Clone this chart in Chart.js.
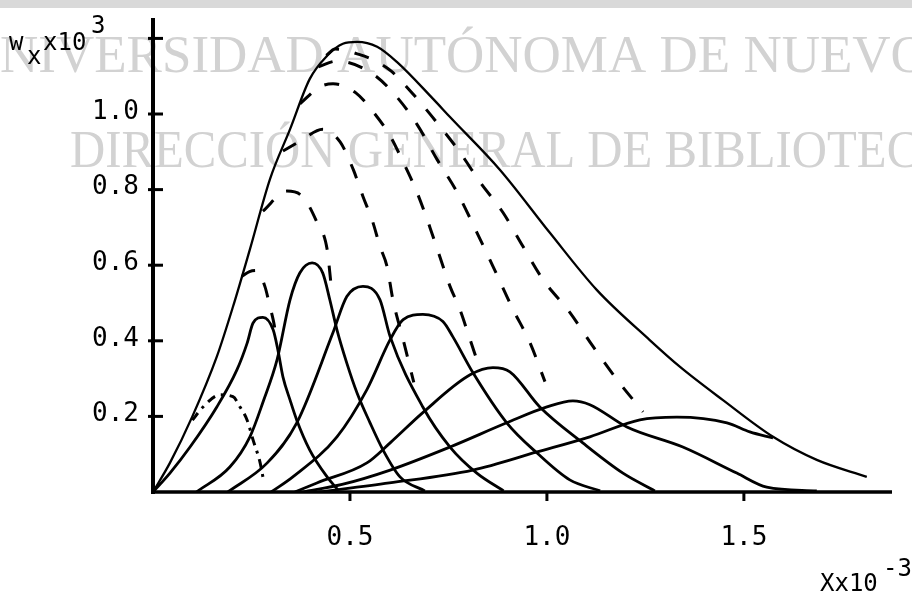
<!DOCTYPE html>
<html>
<head>
<meta charset="utf-8">
<script src="https://cdn.jsdelivr.net/npm/chart.js@4"></script>
<style>html,body{margin:0;padding:0;background:#fff;} canvas{display:block;}</style>
</head>
<body>
<canvas id="grafica" width="912" height="595"></canvas>
<script>
// ejes (X x10^-3, w_x x10^3)
const xTicks = [0.5, 1.0, 1.5];
const xTickLabels = ['0.5', '1.0', '1.5'];
const yTicks = [0.2, 0.4, 0.6, 0.8, 1.0, 1.2];
const yTickLabels = ['0.2', '0.4', '0.6', '0.8', '1.0', ''];

// envolvente
const envX = [0, 0.043, 0.10, 0.162, 0.203, 0.246, 0.297, 0.348, 0.398, 0.442, 0.482, 0.518, 0.569, 0.619, 0.711, 0.754, 0.881, 1.008, 1.127, 1.261, 1.338, 1.447, 1.574, 1.685, 1.812];
const envY = [0, 0.077, 0.20, 0.358, 0.49, 0.642, 0.828, 0.96, 1.093, 1.154, 1.186, 1.191, 1.178, 1.138, 1.04, 0.992, 0.852, 0.685, 0.534, 0.402, 0.331, 0.243, 0.146, 0.085, 0.04];

// curvas continuas
const aX = [0, 0.043, 0.094, 0.162, 0.213, 0.239, 0.254, 0.279, 0.305, 0.317, 0.33, 0.348, 0.365, 0.398, 0.442, 0.47];
const aY = [0, 0.05, 0.119, 0.225, 0.323, 0.394, 0.447, 0.462, 0.429, 0.376, 0.304, 0.243, 0.19, 0.111, 0.04, 0.005];
const bX = [0.11, 0.195, 0.246, 0.28, 0.315, 0.348, 0.373, 0.404, 0.431, 0.449, 0.467, 0.492, 0.518, 0.551, 0.584, 0.627, 0.69];
const bY = [0, 0.066, 0.146, 0.24, 0.35, 0.509, 0.58, 0.606, 0.579, 0.508, 0.429, 0.341, 0.262, 0.183, 0.111, 0.04, 0.003];
const cX = [0.19, 0.29, 0.365, 0.457, 0.492, 0.533, 0.576, 0.602, 0.685, 0.754, 0.822, 0.89];
const cY = [0, 0.077, 0.183, 0.422, 0.517, 0.544, 0.509, 0.411, 0.225, 0.119, 0.05, 0.003];
const dX = [0.3, 0.355, 0.467, 0.543, 0.602, 0.635, 0.685, 0.736, 0.761, 0.812, 0.898, 0.975, 1.058, 1.135];
const dY = [0, 0.04, 0.146, 0.271, 0.403, 0.456, 0.47, 0.451, 0.411, 0.316, 0.183, 0.103, 0.032, 0.003];
const eX = [0.36, 0.416, 0.543, 0.602, 0.685, 0.805, 0.863, 0.906, 0.982, 1.091, 1.193, 1.274];
const eY = [0, 0.024, 0.077, 0.13, 0.21, 0.31, 0.329, 0.318, 0.225, 0.13, 0.05, 0.003];
const fX = [0.38, 0.48, 0.602, 0.754, 0.898, 1.0, 1.066, 1.109, 1.203, 1.345, 1.482, 1.558, 1.685];
const fY = [0, 0.02, 0.058, 0.119, 0.183, 0.225, 0.241, 0.231, 0.172, 0.119, 0.05, 0.013, 0.003];
const gX = [0.42, 0.6, 0.812, 0.975, 1.109, 1.236, 1.33, 1.457, 1.515, 1.574];
const gY = [0, 0.024, 0.058, 0.106, 0.146, 0.191, 0.198, 0.183, 0.159, 0.143];

// curvas discontinuas
const d1X = [0.225, 0.245, 0.262, 0.284, 0.297, 0.305, 0.315];
const d1Y = [0.57, 0.583, 0.586, 0.544, 0.49, 0.456, 0.40];
const d2X = [0.10, 0.127, 0.17, 0.203, 0.221, 0.239, 0.254, 0.272, 0.279];
const d2Y = [0.19, 0.225, 0.257, 0.252, 0.225, 0.19, 0.138, 0.077, 0.04];
const d3X = [0.279, 0.34, 0.381, 0.416, 0.442, 0.452];
const d3Y = [0.743, 0.796, 0.78, 0.714, 0.642, 0.549];
const d4X = [0.33, 0.373, 0.431, 0.475, 0.508, 0.533, 0.558, 0.576, 0.594, 0.609, 0.635, 0.662];
const d4Y = [0.902, 0.928, 0.96, 0.926, 0.854, 0.782, 0.714, 0.65, 0.597, 0.509, 0.403, 0.29];
const d5X = [0.373, 0.424, 0.457, 0.515, 0.561, 0.602, 0.635, 0.67, 0.703, 0.728, 0.754, 0.779, 0.805, 0.822];
const d5Y = [1.027, 1.072, 1.08, 1.056, 1.003, 0.942, 0.873, 0.793, 0.70, 0.623, 0.544, 0.483, 0.403, 0.35];
const d6X = [0.42, 0.467, 0.558, 0.619, 0.673, 0.721, 0.772, 0.822, 0.863, 0.914, 0.957, 0.995];
const d6Y = [1.125, 1.14, 1.106, 1.045, 0.968, 0.88, 0.793, 0.687, 0.597, 0.483, 0.395, 0.292];
const d7X = [0.44, 0.462, 0.525, 0.569, 0.604, 0.66, 0.728, 0.779, 0.83, 0.888, 0.939, 0.99, 1.058, 1.117, 1.178, 1.244];
const d7Y = [1.155, 1.172, 1.157, 1.138, 1.114, 1.053, 0.968, 0.899, 0.82, 0.74, 0.65, 0.562, 0.475, 0.385, 0.297, 0.212];

const marca = ['UNIVERSIDAD AUTÓNOMA DE NUEVO LEÓN', 'DIRECCIÓN GENERAL DE BIBLIOTECAS'];

const pts = (xs, ys) => xs.map((x, i) => ({ x: x, y: ys[i] }));
const solida = (xs, ys, w) => ({ data: pts(xs, ys), borderColor: '#000', borderWidth: w || 2.8, showLine: true, pointRadius: 0, cubicInterpolationMode: 'monotone', fill: false });
const rayada = (xs, ys, dash) => ({ data: pts(xs, ys), borderColor: '#000', borderWidth: 3, borderDash: dash || [15, 16], showLine: true, pointRadius: 0, cubicInterpolationMode: 'monotone', fill: false });

const fondo = {
  id: 'fondo',
  beforeDraw(chart) {
    const ctx = chart.ctx;
    ctx.save();
    ctx.fillStyle = '#fff'; ctx.fillRect(0, 0, chart.width, chart.height);
    ctx.fillStyle = '#d9d9d9'; ctx.fillRect(0, 0, chart.width, 8);
    ctx.fillStyle = '#d2d2d2';
    ctx.font = '53px "Liberation Serif"';
    ctx.textBaseline = 'alphabetic'; ctx.textAlign = 'left';
    ctx.fillText(marca[0], -ctx.measureText('U').width, 72);
    ctx.translate(70, 167); ctx.scale(0.92, 1);
    ctx.fillText(marca[1], 0, 0);
    ctx.restore();
  }
};

const ejes = {
  id: 'ejes',
  afterDatasetsDraw(chart) {
    const { ctx, chartArea: a, scales: { x, y } } = chart;
    ctx.save();
    ctx.strokeStyle = '#000'; ctx.fillStyle = '#000';
    ctx.lineWidth = 4;
    ctx.beginPath(); ctx.moveTo(a.left, a.top); ctx.lineTo(a.left, a.bottom + 2); ctx.stroke();
    ctx.lineWidth = 3.5;
    ctx.beginPath(); ctx.moveTo(a.left - 2, a.bottom); ctx.lineTo(a.right, a.bottom); ctx.stroke();
    ctx.lineWidth = 3;
    yTicks.forEach(v => { const py = y.getPixelForValue(v); ctx.beginPath(); ctx.moveTo(a.left - 5, py); ctx.lineTo(a.left + 10, py); ctx.stroke(); });
    xTicks.forEach(v => { const px = x.getPixelForValue(v); ctx.beginPath(); ctx.moveTo(px, a.bottom); ctx.lineTo(px, a.bottom + 9); ctx.stroke(); });

    ctx.font = '26px "DejaVu Sans Mono"';
    ctx.textBaseline = 'middle';
    ctx.textAlign = 'right';
    yTicks.forEach((v, i) => ctx.fillText(yTickLabels[i], 139, y.getPixelForValue(v) - 2));
    ctx.textAlign = 'center';
    xTicks.forEach((v, i) => ctx.fillText(xTickLabels[i], x.getPixelForValue(v), 538));

    // rotulos de los ejes
    ctx.textAlign = 'left'; ctx.textBaseline = 'alphabetic';
    ctx.font = '24px "DejaVu Sans Mono"';
    ctx.fillText('Xx10', 820, 591);
    ctx.fillText('-3', 883, 576);
    ctx.fillText('w', 9, 50);
    ctx.fillText('x', 27, 64);
    ctx.fillText('x10', 43, 50);
    ctx.fillText('3', 91, 33);
    ctx.restore();
  }
};

new Chart(document.getElementById('grafica'), {
  type: 'scatter',
  data: {
    datasets: [
      solida(envX, envY, 2.3),
      solida(aX, aY), solida(bX, bY), solida(cX, cY), solida(dX, dY),
      solida(eX, eY), solida(fX, fY), solida(gX, gY),
      rayada(d1X, d1Y), rayada(d2X, d2Y, [9, 6, 3, 6]), rayada(d3X, d3Y),
      rayada(d4X, d4Y), rayada(d5X, d5Y), rayada(d6X, d6Y), rayada(d7X, d7Y)
    ]
  },
  options: {
    responsive: false, animation: false, devicePixelRatio: 1,
    layout: { padding: { left: 153, right: 20, top: 18, bottom: 103 } },
    plugins: { legend: { display: false }, tooltip: { enabled: false } },
    scales: {
      x: { type: 'linear', min: 0, max: 1.876, display: false },
      y: { type: 'linear', min: 0, max: 1.254, display: false }
    }
  },
  plugins: [fondo, ejes]
});
</script>
</body>
</html>
